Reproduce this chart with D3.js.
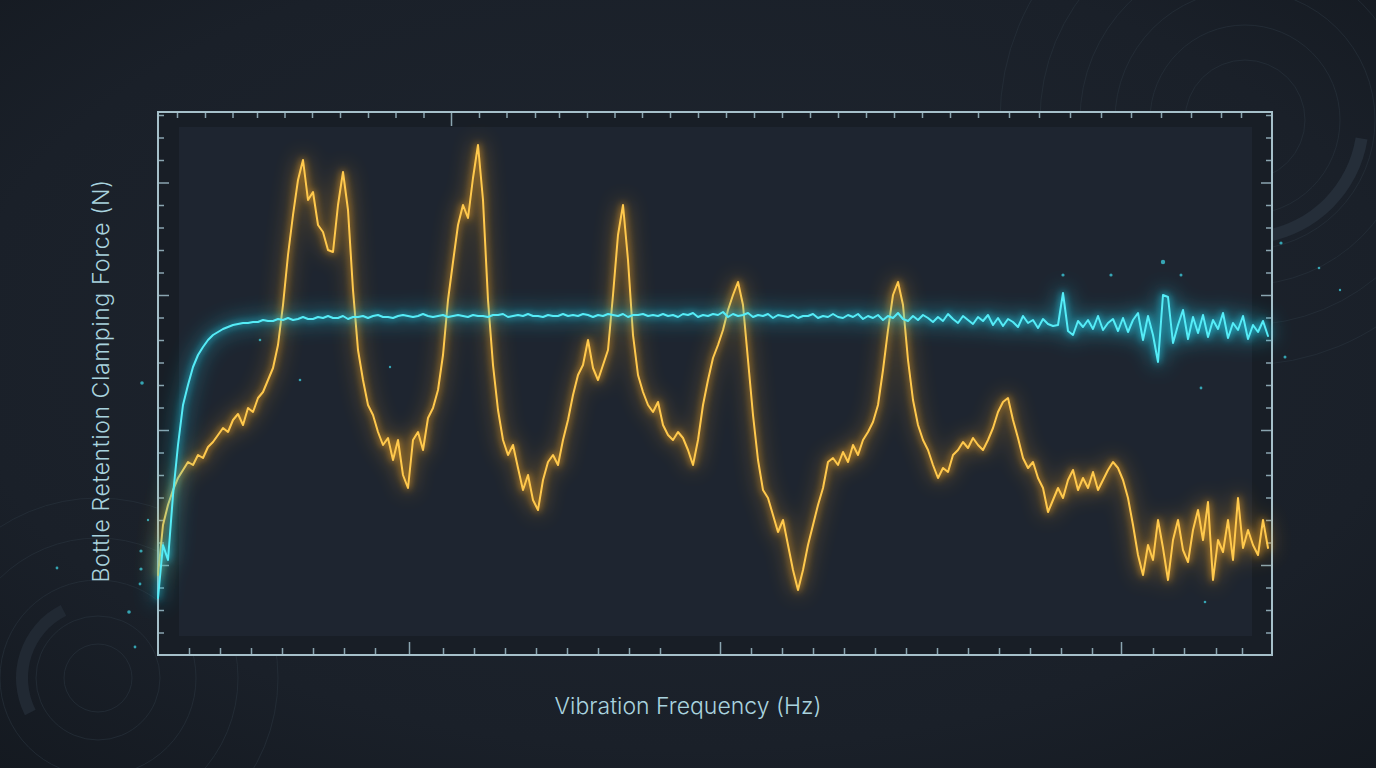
<!DOCTYPE html>
<html><head><meta charset="utf-8">
<script src="https://cdn.jsdelivr.net/npm/d3@7"></script>
<style>html,body{margin:0;padding:0;background:#1b212a;overflow:hidden}</style>
</head><body><svg id="c" width="1376" height="768"></svg>
<script>
// ---- Data (force in N, sampled every 10 Hz) ----
const resonantForce = [
 8.0,13.0,15.0,16.5,17.7,18.5,19.3,19.0,20.0,19.7,20.8,21.3,22.0,22.7,22.3,23.5,24.1,23.0,24.7,24.3,
 25.7,26.3,27.5,28.7,31.0,35.0,40.0,44.0,47.5,49.5,45.5,46.3,43.0,42.3,40.5,40.3,45.0,48.3,44.5,36.5,
 30.5,27.5,25.0,24.0,22.3,21.0,21.7,19.5,21.5,18.0,16.7,21.5,22.3,20.5,23.7,24.7,26.5,30.0,35.5,39.3,
 43.0,45.0,43.7,47.7,51.0,45.5,35.5,29.0,24.5,21.5,20.0,21.0,18.7,16.5,18.0,15.5,14.5,17.5,19.3,20.0,
 19.0,21.5,23.5,26.0,28.0,29.0,31.5,28.7,27.5,29.0,30.5,36.0,42.0,45.0,39.5,32.0,28.0,26.3,25.0,24.3,
 25.3,23.0,22.0,21.5,22.3,21.7,20.5,19.0,21.5,25.0,27.5,29.7,31.0,32.5,34.5,36.0,37.3,35.0,29.5,24.0,
 19.5,16.5,15.7,14.0,12.3,13.5,11.0,8.5,6.5,8.5,11.0,13.0,15.0,16.7,19.3,19.7,19.0,20.3,19.3,21.0,
 20.0,21.5,22.3,23.3,25.0,28.5,32.5,36.0,37.3,35.0,29.5,25.5,23.0,21.5,20.5,19.0,17.7,18.7,18.3,20.0,
 20.5,21.3,20.7,21.7,21.0,20.5,21.5,22.7,24.3,25.3,25.7,23.5,21.7,19.7,18.7,19.3,17.7,16.7,14.3,15.5,
 16.7,15.7,17.5,18.5,16.5,17.7,16.7,18.3,16.5,17.5,18.5,19.3,18.7,17.5,15.7,13.0,10.0,8.0,11.0,9.5,
 13.5,10.7,7.5,11.5,13.5,10.5,9.3,12.5,14.5,11.5,15.3,7.5,11.5,10.3,13.5,9.5,15.7,10.7,12.5,11.0,
 10.0,13.5,10.7
];
const retentionForce = [
 5.7,11.0,9.5,16.0,21.0,25.0,27.0,28.8,30.0,30.8,31.5,32.0,32.3,32.6,32.8,33.0,33.1,33.2,33.2,33.3,
 33.3,33.5,33.4,33.4,33.6,33.5,33.7,33.5,33.6,33.8,33.6,33.6,33.8,33.7,33.9,33.7,33.7,33.9,33.6,33.8,
 33.8,33.9,33.7,33.9,34.0,33.8,33.8,33.7,33.9,34.0,33.9,33.8,33.9,34.1,33.9,33.8,33.9,34.0,33.8,33.9,
 34.0,33.9,33.8,34.0,33.9,33.9,33.8,34.0,34.0,34.1,33.8,33.9,34.0,33.9,34.1,33.9,33.9,33.8,34.0,33.9,
 33.9,34.1,33.9,34.0,33.9,34.1,34.0,33.8,34.0,33.9,34.1,34.0,33.9,34.1,33.8,34.0,34.0,34.1,33.9,34.0,
 33.9,34.1,33.9,34.0,33.8,34.1,34.0,34.2,33.8,34.0,33.9,34.1,34.0,34.3,33.8,34.1,33.9,34.0,34.2,33.8,
 34.0,33.9,34.1,33.7,34.0,33.9,33.8,34.0,33.7,33.9,33.9,34.1,33.7,33.9,33.8,34.1,33.8,33.7,34.0,33.8,
 34.1,33.6,33.9,33.7,34.0,33.5,33.9,33.7,34.2,33.6,33.4,33.9,33.5,34.0,33.7,33.3,33.8,33.4,34.1,33.6,
 33.2,33.9,33.5,33.1,33.8,33.4,34.0,33.0,33.7,32.9,33.6,33.3,32.8,33.9,33.2,33.5,32.7,33.6,33.1,32.9,
 33.0,36.2,32.4,32.0,33.4,32.8,33.5,32.6,33.9,32.5,33.2,33.6,32.4,33.7,32.3,33.5,34.2,31.5,33.9,32.0,
 29.3,36.0,35.8,31.2,33.0,34.5,31.6,33.8,32.2,34.0,31.8,33.5,32.6,34.2,31.7,33.2,32.5,33.9,31.6,33.0,
 32.3,33.4,31.9
];
const freqStepHz = 10;
const frequencies = resonantForce.map((_, i) => i * freqStepHz);

const xDomain = [0, 2228];
const yDomain = [0, 54.3];
const xMinorTicks = [62,124,186,248,310,372,434,570,632,694,756,818,880,942,1004,1186,1248,1310,1372,1434,1496,1558,1620,1682,1744,1806,1868,1990,2052,2116,2168];
const xMajorTicks = [502,1124,1926];
const xTopMinorTicks = [38,94,149,198,253,308,364,420,475,531,642,697,754,802,858,913,968,1024,1080,1136,1192,1248,1304,1360,1416,1472,1528,1584,1640,1702,1762,1824,1886,1946,2006,2066,2126,2166];
const xTopMajorTicks = [586];
const yMinorTicks = [2.25,4.5,6.75,11.25,13.5,15.75,18,20.25,24.75,27,29.25,31.5,33.75,38.25,40.5,42.75,45,49.5,51.75,54];
const yMajorTicks = [9,22.5,36,47.25];

const xLabel = "Vibration Frequency (Hz)";
const yLabel = "Bottle Retention Clamping Force (N)";

// ---- Drawing ----
const W = 1376, H = 768;
const svg = d3.select("#c");
const defs = svg.append("defs");

const bg = defs.append("radialGradient").attr("id","bg").attr("cx","50%").attr("cy","45%").attr("r","75%");
bg.append("stop").attr("offset","0%").attr("stop-color","#1f2630");
bg.append("stop").attr("offset","70%").attr("stop-color","#1a2029");
bg.append("stop").attr("offset","100%").attr("stop-color","#141920");

function glow(id, sd){
  const f = defs.append("filter").attr("id",id).attr("x","-20%").attr("y","-50%").attr("width","140%").attr("height","200%");
  f.append("feGaussianBlur").attr("in","SourceGraphic").attr("stdDeviation",sd);
}
glow("blurWide", 10);
glow("blurMid", 3.5);

svg.append("rect").attr("width",W).attr("height",H).attr("fill","url(#bg)");

// HUD decorations
const deco = svg.append("g").attr("fill","none").attr("stroke","#27303b").attr("stroke-width",1);
[[1245,120],[98,678]].forEach(([cx,cy],j)=>{
  const radii = j===0 ? [60,95,130,165,205,245] : [34,62,98,140,180];
  radii.forEach(r=>deco.append("circle").attr("cx",cx).attr("cy",cy).attr("r",r).attr("opacity",0.7));
});
const arcGen = d3.arc();
deco.append("path").attr("transform","translate(1245,120)")
  .attr("d",arcGen({innerRadius:112,outerRadius:124,startAngle:Math.PI*0.55,endAngle:Math.PI*0.95}))
  .attr("fill","#252e39").attr("stroke","none");
deco.append("path").attr("transform","translate(98,678)")
  .attr("d",arcGen({innerRadius:70,outerRadius:82,startAngle:Math.PI*1.35,endAngle:Math.PI*1.85}))
  .attr("fill","#212933").attr("stroke","none");
deco.append("path").attr("transform","translate(1245,120)")
  .attr("d",arcGen({innerRadius:178,outerRadius:184,startAngle:Math.PI*0.05,endAngle:Math.PI*0.45}))
  .attr("fill","#252e39").attr("stroke","none");

const x = d3.scaleLinear().domain(xDomain).range([158,1272]);
const y = d3.scaleLinear().domain(yDomain).range([655,112]);

// frame band + inner panel
svg.append("rect").attr("x",158).attr("y",112).attr("width",1114).attr("height",543).attr("fill","#181e26");
svg.append("rect").attr("x",179).attr("y",127).attr("width",1073).attr("height",509).attr("fill","#1e2530");

// particles
const dots = [[142,383,1.8],[141,551,1.6],[141,569,1.6],[140,584,1.4],[129,612,1.8],[57,568,1.4],[135,647,1.4],[148,520,1.2],
  [1063,275,1.6],[1111,275,1.6],[1163,262,2.2],[1181,275,1.5],[1281,243,1.6],[1285,357,1.5],[1319,268,1.3],[1201,388,1.4],
  [260,340,1.3],[300,380,1.3],[390,367,1.2],[1205,602,1.3],[1340,290,1.2]];
svg.append("g").selectAll("circle").data(dots).join("circle")
  .attr("cx",d=>d[0]).attr("cy",d=>d[1]).attr("r",d=>d[2]).attr("fill","#3fd0e0").attr("opacity",0.75);

// axes
const tickCol = "#8aa5b0";
function drawAxis(axisFn, scale, vals, size, transform){
  const g = svg.append("g").attr("transform",transform)
    .call(axisFn(scale).tickValues(vals).tickSize(size).tickFormat(""));
  g.select(".domain").remove();
  g.selectAll(".tick line").attr("stroke",tickCol).attr("stroke-width",1.5);
}
drawAxis(d3.axisTop, x, xMinorTicks, 7, "translate(0,655)");
drawAxis(d3.axisTop, x, xMajorTicks, 13, "translate(0,655)");
drawAxis(d3.axisBottom, x, xTopMinorTicks, 6, "translate(0,112)");
drawAxis(d3.axisBottom, x, xTopMajorTicks, 14, "translate(0,112)");
drawAxis(d3.axisRight, y, yMinorTicks, 6, "translate(158,0)");
drawAxis(d3.axisRight, y, yMajorTicks, 11, "translate(158,0)");
drawAxis(d3.axisLeft, y, yMinorTicks, 6, "translate(1272,0)");
drawAxis(d3.axisLeft, y, yMajorTicks, 11, "translate(1272,0)");

svg.append("rect").attr("x",158).attr("y",112).attr("width",1114).attr("height",543)
  .attr("fill","none").attr("stroke","#a6c0ca").attr("stroke-width",2);

// lines
const line = d3.line().x((d,i)=>x(frequencies[i])).y(d=>y(d)).curve(d3.curveLinear);
function drawSeries(data, glowCol, coreCol, wideOp){
  const g = svg.append("g").attr("fill","none").attr("stroke-linejoin","round").attr("stroke-linecap","round");
  g.append("path").attr("d",line(data)).attr("stroke",glowCol).attr("stroke-width",10).attr("opacity",wideOp).attr("filter","url(#blurWide)");
  g.append("path").attr("d",line(data)).attr("stroke",glowCol).attr("stroke-width",4).attr("opacity",0.6).attr("filter","url(#blurMid)");
  g.append("path").attr("d",line(data)).attr("stroke",coreCol).attr("stroke-width",2);
}
drawSeries(resonantForce, "#f5a623", "#ffc94d", 0.3);
drawSeries(retentionForce, "#22d3ee", "#55ecf7", 0.4);

// labels
svg.append("text").attr("x",688).attr("y",714).attr("text-anchor","middle")
  .attr("font-family","Inter, 'Noto Sans', sans-serif").attr("font-size",23).attr("font-weight",300)
  .attr("fill","#a9d3df").text(xLabel);
svg.append("text").attr("transform","translate(109,381) rotate(-90)").attr("text-anchor","middle")
  .attr("font-family","Inter, 'Noto Sans', sans-serif").attr("font-size",23).attr("font-weight",300)
  .attr("letter-spacing",0.6).attr("fill","#a9d3df").text(yLabel);
</script></body></html>
